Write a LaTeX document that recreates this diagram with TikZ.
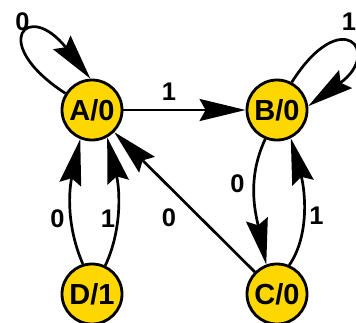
\documentclass[tikz,border=0pt]{standalone}
\usepackage{fontspec}
\setmainfont{Liberation Sans}
\usetikzlibrary{arrows.meta}
\definecolor{stategold}{RGB}{255,215,0}
\begin{document}
\begin{tikzpicture}[x=1pt,y=-1pt,
  state/.style={circle,draw=black,line width=2.8pt,fill=stategold,
    minimum size=60pt,inner sep=0pt,
    font=\fontsize{29}{29}\selectfont\bfseries},
  edge/.style={line width=2.7pt,
    -{Stealth[length=46pt,width=22pt,inset=6pt]}},
  lbl/.style={inner sep=0pt,font=\fontsize{25.5}{25.5}\selectfont\bfseries}]
\useasboundingbox (0,0) rectangle (356,322);

% states of the machine (name/output)
\node[state] (A) at (92,110) {A/0};
\node[state] (B) at (277,110) {B/0};
\node[state] (C) at (277,294) {C/0};
\node[state] (D) at (92,294) {D/1};

% transitions
\draw[edge] (A.148) .. controls (-12.6,42.5) and (27.8,-0.8) .. (A.93);
\draw[edge] (A) -- (B);
\draw[edge] (B.62) .. controls (342,3) and (383,52) .. (B.7);
\draw[edge] (B.248) .. controls (246,180) and (256,215) .. (C.110);
\draw[edge] (C.67) .. controls (310,235) and (305,190) .. (B.296);
\draw[edge] (C) -- (A);
\draw[edge] (D.107) .. controls (66,225) and (69,190) .. (A.248);
\draw[edge] (D.65) .. controls (122,230) and (120,190) .. (A.299);

% input labels
\node[lbl] (l0) at (22.5,22) {0};
\node[lbl] (l1) at (169,92) {1};
\node[lbl] (l2) at (349,22) {1};
\node[lbl] (l3) at (237.5,184) {0};
\node[lbl] (l4) at (316.5,216) {1};
\node[lbl] (l5) at (169,218) {0};
\node[lbl] (l6) at (57.5,219) {0};
\node[lbl] (l7) at (108,219) {1};
\end{tikzpicture}
\end{document}
